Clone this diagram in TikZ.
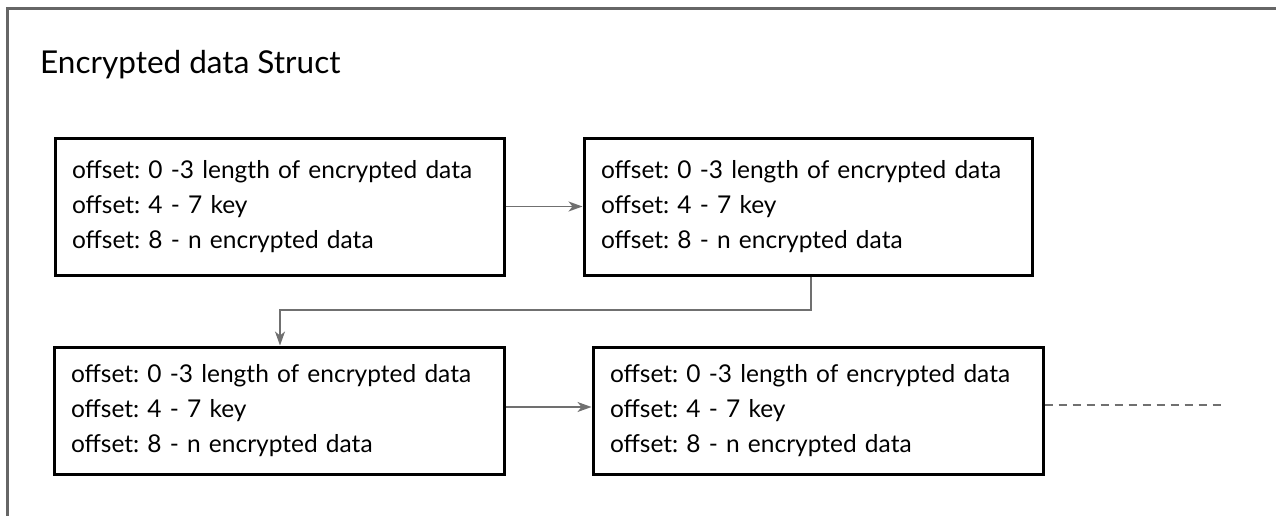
\documentclass[tikz,border=0pt]{standalone}
\usepackage{fontspec}
\setmainfont{Lato}
\usetikzlibrary{arrows.meta}
\definecolor{framegray}{HTML}{666666}
\definecolor{linkgray}{HTML}{707070}
\frenchspacing
\tikzset{
  recbox/.style={draw=black, line width=3pt, align=left, inner xsep=17pt, inner ysep=0pt,
    font=\fontsize{24.5}{35}\selectfont},
  link/.style={draw=linkgray, line width=1.5pt, -{Stealth[length=14pt,width=10pt,inset=4pt]}},
  tail/.style={draw=linkgray, line width=1.5pt, dash pattern=on 8pt off 6pt},
}
\begin{document}
\begin{tikzpicture}[x=1pt,y=-1pt]
\useasboundingbox (0,0) rectangle (1276,516);
% outer frame (top and left)
\draw[framegray, line width=3pt] (7,520) -- (7,9) -- (1280,9);
\node[anchor=base west, font=\fontsize{31.5}{36}\selectfont, inner sep=0pt] (title) at (40,74) {Encrypted data Struct};
\node[recbox, minimum width=449pt, minimum height=137pt, text width=415pt] (b1) at (279.5,206.5)
  {offset: 0 -3 length of encrypted data\\offset: 4 - 7 key\\offset: 8 - n encrypted data};
\node[recbox, minimum width=448pt, minimum height=137pt, text width=414pt] (b2) at (808,206.5)
  {offset: 0 -3 length of encrypted data\\offset: 4 - 7 key\\offset: 8 - n encrypted data};
\node[recbox, minimum width=450pt, minimum height=127pt, text width=416pt] (b3) at (279,410.5)
  {offset: 0 -3 length of encrypted data\\offset: 4 - 7 key\\offset: 8 - n encrypted data};
\node[recbox, minimum width=450pt, minimum height=127pt, text width=416pt] (b4) at (818,410.5)
  {offset: 0 -3 length of encrypted data\\offset: 4 - 7 key\\offset: 8 - n encrypted data};
\coordinate (end) at (1225,405);
\draw[link] (b1.east) -- (b2.west);
\draw[link] (b2.south -| 811,0) -- (811,310) -- (280,310) -- (b3.north -| 280,0);
\draw[link] (b3.east |- 0,407) -- (b4.west |- 0,407);
\draw[tail] (b4.east |- 0,405) -- (end);
\end{tikzpicture}
\end{document}
